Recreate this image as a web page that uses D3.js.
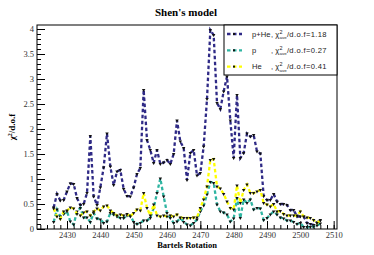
<!DOCTYPE html>
<html>
<head>
<meta charset="utf-8">
<title>Shen's model</title>
<style>
  body { margin: 0; background: #fff; }
  .tick text { font-family: "Liberation Serif", "DejaVu Serif", serif; font-size: 8.5px; fill: #333; }
  .tick line { stroke: #000; }
</style>
</head>
<body>
<svg width="374" height="255"></svg>

<script src="https://d3js.org/d3.v7.min.js"></script>
<script>
// Bartels rotations, one point per rotation
var firstRotation = 2426;

var pHe = [0.43,0.70,0.57,0.58,0.75,0.91,0.90,0.62,0.48,0.50,
           0.72,1.86,0.65,0.48,0.83,1.23,1.91,1.25,0.88,1.15,
           1.18,0.80,0.66,0.65,0.83,1.10,1.22,2.78,1.78,1.58,
           1.32,1.58,1.30,1.33,1.38,1.30,1.50,2.17,1.75,1.62,
           0.98,1.52,1.58,1.07,1.12,1.65,2.60,3.98,3.88,2.52,
           2.40,2.75,3.05,2.17,1.42,2.68,1.42,1.52,1.91,1.85,
           1.88,1.55,1.51,0.66,0.58,0.58,0.70,0.55,0.50,0.50,
           0.48,0.38,0.38,0.25,0.25,0.25,0.12,0.10,0.08,0.13,
           0.18];

var proton = [0.14,0.39,0.25,0.30,0.35,0.15,0.09,0.35,0.42,0.23,
              0.23,0.14,0.32,0.21,0.19,0.12,0.15,0.32,0.29,0.25,
              0.22,0.22,0.27,0.27,0.14,0.10,0.12,0.17,0.17,0.22,
              0.42,0.72,1.01,0.65,0.32,0.22,0.12,0.15,0.22,0.14,
              0.09,0.07,0.12,0.19,0.35,0.47,0.69,0.94,0.92,0.49,
              0.35,0.33,0.29,0.15,0.21,0.62,0.22,0.59,0.52,0.59,
              0.39,0.42,0.41,0.18,0.22,0.29,0.35,0.29,0.23,0.21,
              0.17,0.17,0.14,0.10,0.12,0.04,0.04,0.04,0.05,0.07,
              0.11];

var helium = [0.41,0.25,0.20,0.35,0.37,0.43,0.41,0.30,0.27,0.33,
              0.35,0.27,0.35,0.41,0.37,0.45,0.47,0.37,0.32,0.27,
              0.29,0.27,0.30,0.25,0.32,0.39,0.37,0.72,0.42,0.27,
              0.49,0.27,0.25,0.27,0.25,0.27,0.25,0.29,0.23,0.22,
              0.22,0.22,0.23,0.23,0.42,0.59,0.85,1.38,1.40,0.85,
              0.81,0.70,0.55,0.42,0.39,0.87,0.52,0.78,0.89,0.72,
              0.72,0.75,0.78,0.52,0.49,0.45,0.50,0.35,0.36,0.30,
              0.27,0.27,0.27,0.27,0.35,0.25,0.23,0.22,0.18,0.12,
              0.17];

var seriesNames = ["p+He", "p", "He"];
var chiValues = ["1.18", "0.27", "0.41"];
var seriesColors = ["#2f2a86", "#2fb5a2", "#ffff00"];

var xTicks = [2430, 2440, 2450, 2460, 2470, 2480, 2490, 2500, 2510];
var yTicks = [0, 0.5, 1, 1.5, 2, 2.5, 3, 3.5, 4];

// note: "top" is taken by window.top, so use plot* names
var svg = d3.select("svg"),
    plotL = 37, plotR = 337, plotT = 25, plotB = 229;

var x = d3.scaleLinear().domain([2421, 2511]).range([plotL, plotR]);
var y = d3.scaleLinear().domain([0, 4.08]).range([plotB, plotT]);

// title
svg.append("text")
    .attr("x", 186).attr("y", 16)
    .attr("text-anchor", "middle")
    .attr("font-family", "Liberation Serif, serif")
    .attr("font-weight", "bold")
    .attr("font-size", 11)
    .text("Shen's model");

// minor + major ticks, pointing inwards
var minorY = d3.range(0, 4.05, 0.1);
var minorX = d3.range(2422, 2512, 2);

svg.append("g")
    .attr("transform", "translate(" + plotL + ",0)")
    .call(d3.axisLeft(y).tickValues(minorY).tickSize(-4).tickFormat(""))
  .select(".domain").remove();

svg.append("g")
    .attr("transform", "translate(" + plotL + ",0)")
    .call(d3.axisLeft(y).tickValues(yTicks).tickSize(-8).tickPadding(3)
        .tickFormat(d3.format("")))
  .select(".domain").remove();

svg.append("g")
    .attr("transform", "translate(0," + plotB + ")")
    .call(d3.axisBottom(x).tickValues(minorX).tickSize(-4).tickFormat(""))
  .select(".domain").remove();

svg.append("g")
    .attr("transform", "translate(0," + plotB + ")")
    .call(d3.axisBottom(x).tickValues(xTicks).tickSize(-8).tickPadding(3)
        .tickFormat(d3.format("d")))
  .select(".domain").remove();

// frame
svg.append("rect")
    .attr("x", plotL).attr("y", plotT)
    .attr("width", plotR - plotL).attr("height", plotB - plotT)
    .attr("fill", "none").attr("stroke", "#000").attr("stroke-width", 1);

// axis titles
svg.append("text")
    .attr("x", 187).attr("y", 248)
    .attr("text-anchor", "middle")
    .attr("font-family", "Liberation Serif, serif")
    .attr("font-weight", "bold")
    .attr("font-size", 8.5)
    .text("Bartels Rotation");

var ytitle = svg.append("text")
    .attr("transform", "translate(15,127) rotate(-90)")
    .attr("text-anchor", "middle")
    .attr("font-family", "Liberation Serif, serif")
    .attr("font-weight", "bold")
    .attr("font-size", 9);
ytitle.append("tspan").text("χ");
ytitle.append("tspan").attr("font-size", 6).attr("dy", -3).text("2");
ytitle.append("tspan").attr("dy", 3).text("/d.o.f");

// series
var allSeries = [pHe, proton, helium];

var line = d3.line()
    .x(function(d, i) { return x(firstRotation + i); })
    .y(function(d) { return y(d); });

var tri = d3.symbol().type(d3.symbolTriangle).size(5);

allSeries.forEach(function(vals, s) {
  svg.append("path")
      .datum(vals)
      .attr("fill", "none")
      .attr("stroke", seriesColors[s])
      .attr("stroke-width", 2.3)
      .attr("stroke-dasharray", "3.5,2.5")
      .attr("d", line);

  svg.append("g")
    .selectAll("path")
    .data(vals)
    .enter().append("path")
      .attr("transform", function(d, i) {
        return "translate(" + x(firstRotation + i) + "," + y(d) + ") rotate(180)";
      })
      .attr("fill", "#111")
      .attr("d", tri);
});

// legend
var legend = svg.append("g");
legend.append("rect")
    .attr("x", 224).attr("y", plotT)
    .attr("width", plotR - 224).attr("height", 50)
    .attr("fill", "#fff").attr("stroke", "#000").attr("stroke-width", 1);

var font = "Liberation Sans, Arial, sans-serif";

seriesNames.forEach(function(name, s) {
  var ly = 34 + s * 16.3;
  legend.append("line")
      .attr("x1", 227).attr("x2", 242)
      .attr("y1", ly).attr("y2", ly)
      .attr("stroke", seriesColors[s])
      .attr("stroke-width", 2.3)
      .attr("stroke-dasharray", "3.5,2.5");
  legend.append("rect")
      .attr("x", 233).attr("y", ly - 1)
      .attr("width", 2).attr("height", 2)
      .attr("fill", "#111");

  legend.append("text")
      .attr("x", 252).attr("y", ly + 2.7)
      .attr("font-family", font).attr("font-size", 7.6).attr("fill", "#222")
      .text(name);
  var cx = 271;
  var chi = legend.append("text")
      .attr("x", cx).attr("y", ly + 2.7)
      .attr("font-family", font).attr("font-size", 7.6).attr("fill", "#222")
      .text(", χ");
  var w = chi.node().getComputedTextLength();
  legend.append("text")
      .attr("x", cx + w + 0.3).attr("y", ly - 0.2)
      .attr("font-family", font).attr("font-size", 5.4).attr("fill", "#222")
      .text("2");
  var sub = legend.append("text")
      .attr("x", cx + w + 0.3).attr("y", ly + 5)
      .attr("font-family", font).attr("font-size", 4.4).attr("fill", "#222")
      .text("ave");
  var ws = sub.node().getComputedTextLength();
  legend.append("text")
      .attr("x", cx + w + ws + 0.6).attr("y", ly + 2.7)
      .attr("font-family", font).attr("font-size", 7.6).attr("fill", "#222")
      .attr("letter-spacing", 0.35)
      .text("/d.o.f=" + chiValues[s]);
});
</script>
</body>
</html>
